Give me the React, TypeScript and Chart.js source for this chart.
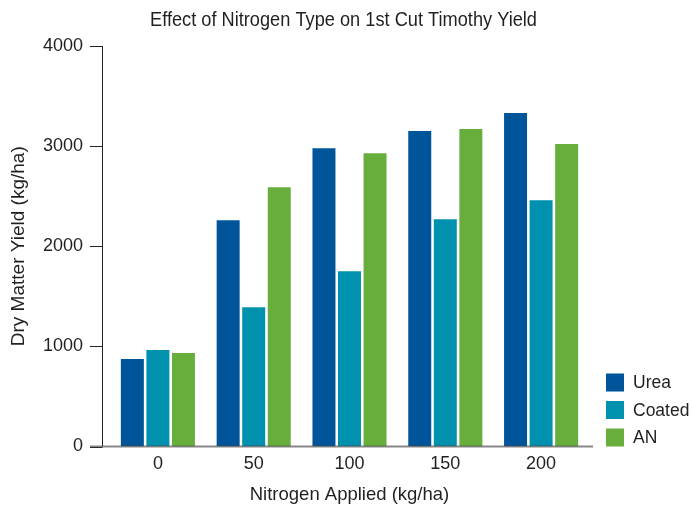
import React, { useEffect, useRef } from "react";
import { Chart, registerables } from "chart.js";

Chart.register(...registerables);

const categories = ["0", "50", "100", "150", "200"];
const ureaValues = [875, 2260, 2980, 3150, 3330];
const coatedValues = [965, 1390, 1750, 2270, 2460];
const anValues = [935, 2590, 2930, 3170, 3020];
const yTicks = [0, 1000, 2000, 3000, 4000];

const seriesNames = ["Urea", "Coated", "AN"];
const seriesColors = ["#00549A", "#0091AE", "#68AE3D"];
const chartTitle = "Effect of Nitrogen Type on 1st Cut Timothy Yield";

const TEXT = "#231F20";
const FONT = "'Liberation Sans', Arial, sans-serif";

const axisPlugin = {
  id: "customAxes",
  afterDatasetsDraw(chart: any) {
    const { ctx, chartArea, scales } = chart;
    const ys = scales.y;
    const axisX = chartArea.left - 7.5;
    ctx.save();
    ctx.strokeStyle = TEXT;
    ctx.lineWidth = 1;
    ctx.beginPath();
    ctx.moveTo(axisX, chartArea.top);
    ctx.lineTo(axisX, chartArea.bottom);
    ys.ticks.forEach((t: any) => {
      const py = Math.round(ys.getPixelForValue(t.value)) + 0.5;
      ctx.moveTo(chartArea.left - 20, py);
      ctx.lineTo(axisX, py);
    });
    ctx.stroke();
    ctx.strokeStyle = "rgba(70,70,70,0.65)";
    ctx.lineWidth = 2;
    ctx.beginPath();
    ctx.moveTo(chartArea.left - 20, chartArea.bottom);
    ctx.lineTo(chartArea.right + 4, chartArea.bottom);
    ctx.stroke();
    ctx.restore();
  },
  afterDraw(chart: any) {
    const { ctx, chartArea, width } = chart;
    const datasets = chart.data.datasets;
    const boxW = 18;
    const boxH = 18;
    const step = 27.5;
    const left = chartArea.right + 17;
    ctx.save();
    ctx.font = `17.5px ${FONT}`;
    ctx.textBaseline = "middle";
    ctx.textAlign = "left";
    const n = datasets.length;
    datasets.forEach((ds: any, i: number) => {
      const bottom = chartArea.bottom - (n - 1 - i) * step;
      const top = bottom - boxH;
      ctx.fillStyle = ds.backgroundColor;
      ctx.fillRect(left, top, boxW, boxH);
      ctx.fillStyle = TEXT;
      ctx.fillText(ds.label, left + boxW + 9, top + boxH / 2 + 1);
    });
    ctx.restore();

    // title: condensed face emulated by horizontal scaling, centred on canvas
    ctx.save();
    ctx.font = `20px ${FONT}`;
    ctx.textBaseline = "alphabetic";
    ctx.textAlign = "center";
    ctx.fillStyle = TEXT;
    const w = ctx.measureText(chartTitle).width;
    const sx = 387 / w;
    ctx.translate(width / 2 - 3, 26);
    ctx.scale(sx, 1);
    ctx.fillText(chartTitle, 0, 0);
    ctx.restore();
  },
};

export default function App() {
  const ref = useRef<HTMLCanvasElement>(null);
  useEffect(() => {
    if (!ref.current) return;
    const valuesList = [ureaValues, coatedValues, anValues];
    const chart = new Chart(ref.current, {
      type: "bar",
      data: {
        labels: categories,
        datasets: seriesNames.map((name, i) => ({
          label: name,
          data: valuesList[i],
          backgroundColor: seriesColors[i],
          borderWidth: 0,
          barPercentage: 0.9,
          categoryPercentage: 0.8,
        })),
      },
      options: {
        responsive: false,
        animation: false,
        devicePixelRatio: 1,
        layout: { padding: { left: 0, right: 104, top: 46, bottom: 0 } },
        plugins: {
          legend: { display: false },
          tooltip: { enabled: false },
          title: { display: false },
        },
        scales: {
          x: {
            grid: { display: false, drawTicks: false },
            border: { display: false },
            ticks: {
              color: TEXT,
              font: { family: FONT, size: 18 },
              padding: 7,
            },
            title: {
              display: true,
              text: "Nitrogen Applied (kg/ha)",
              color: TEXT,
              font: { family: FONT, size: 18.5 },
              padding: { top: 0, bottom: 4 },
            },
            afterFit(scale: any) {
              scale.height = 63.5;
            },
          },
          y: {
            min: 0,
            max: 4000,
            afterBuildTicks(scale: any) {
              scale.ticks = yTicks.map((v) => ({ value: v }));
            },
            grid: { display: false, drawTicks: false },
            border: { display: false },
            ticks: {
              color: TEXT,
              font: { family: FONT, size: 18 },
              padding: 27,
              callback: (v: any) => String(v),
            },
            title: {
              display: true,
              text: "Dry Matter Yield (kg/ha)",
              color: TEXT,
              font: { family: FONT, size: 19 },
              padding: { top: 7, bottom: 0 },
            },
            afterFit(scale: any) {
              scale.width = 110;
            },
          },
        },
      },
      plugins: [axisPlugin],
    });
    return () => chart.destroy();
  }, []);
  return (
    <div style={{ position: "fixed", left: 0, top: 0, width: 693, height: 510, background: "#fff" }}>
      <canvas ref={ref} width={693} height={510} style={{ width: 693, height: 510, display: "block" }} />
    </div>
  );
}
